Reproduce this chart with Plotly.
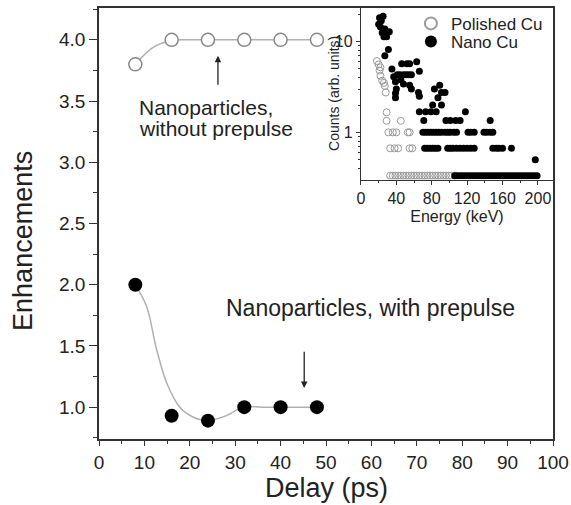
import plotly.graph_objects as go

# ---- main panel data ----
delay = [8, 16, 24, 32, 40, 48]
enh_no_prepulse = [3.8, 4.0, 4.0, 4.0, 4.0, 4.0]
enh_prepulse = [2.0, 0.93, 0.89, 1.0, 1.0, 1.0]

# guide curves
fit_top_x = [8, 12, 16, 20, 28, 36, 48]
fit_top_y = [3.8, 3.94, 3.995, 4.0, 4.0, 4.0, 4.0]
fit_bot_x = [8, 10.5, 12.7, 14.9, 17.8, 20.7, 24, 28, 31.7, 36, 40, 48]
fit_bot_y = [2.0, 1.82, 1.47, 1.2, 1.0, 0.92, 0.89, 0.93, 1.0, 1.0, 1.0, 1.0]

# ---- inset data ----
nano_x = [21, 25, 23, 20, 22, 27, 24, 30, 32, 26, 29, 31, 27,
          35, 46, 52, 55, 63, 66, 37, 41, 44, 48, 51, 54, 57, 39, 45, 48, 55, 57, 40, 39, 39, 65, 66,
          66, 73, 79, 85, 71, 81, 83, 89, 87, 91, 95, 91, 96, 101, 107, 112, 118, 146,
          70, 73, 76, 79, 82, 85, 88, 91, 95, 98, 101, 105, 108, 121, 124, 128, 139, 142, 146, 149,
          72, 75, 78, 81, 84, 87, 98, 101, 104, 108, 112, 116, 120, 124, 128, 149, 153, 156, 160, 170,
          197,
          106, 109, 112, 115, 118, 121, 124, 127, 130, 133, 136, 139, 142, 145, 148, 151, 154, 157,
          160, 163, 166, 169, 172, 175, 178, 181, 184, 187, 190, 193, 196, 199]
nano_y = [18.3, 19.0, 17.0, 15.5, 14.5, 13.8, 12.5, 12.6, 12.8, 11.3, 11.3, 8.2, 7.0,
          5.0, 5.7, 5.7, 5.7, 6.0, 4.7, 4.1, 4.3, 4.3, 4.3, 4.3, 4.3, 4.3, 3.6, 3.8, 3.4, 3.3, 3.0, 3.0, 2.7, 2.4, 2.75, 2.5,
          1.69, 1.69, 1.69, 1.69, 1.35, 2.0, 3.0, 3.3, 2.4, 2.75, 2.75, 2.0, 1.35, 1.35, 1.35, 1.35, 1.69, 1.35,
          1, 1, 1, 1, 1, 1, 1, 1, 1, 1, 1, 1, 1, 1, 1, 1, 1, 1, 1, 1,
          0.667, 0.667, 0.667, 0.667, 0.667, 0.667, 0.667, 0.667, 0.667, 0.667, 0.667, 0.667, 0.667,
          0.667, 0.667, 0.667, 0.667, 0.667, 0.667, 0.667,
          0.5,
          0.333, 0.333, 0.333, 0.333, 0.333, 0.333, 0.333, 0.333, 0.333, 0.333, 0.333, 0.333, 0.333,
          0.333, 0.333, 0.333, 0.333, 0.333, 0.333, 0.333, 0.333, 0.333, 0.333, 0.333, 0.333, 0.333,
          0.333, 0.333, 0.333, 0.333, 0.333, 0.333]
pol_x = [18, 20, 22, 21, 22, 24, 26, 27, 28, 29, 29, 45,
         31, 36, 40, 53, 55,
         33, 38, 42, 55, 58,
         33, 36, 39, 42, 45, 48, 51, 54, 57, 60, 63, 66, 69, 72, 75, 78, 81, 84, 87, 90, 93, 96, 99, 102, 106]
pol_y = [6.1, 5.6, 5.2, 4.8, 4.2, 3.7, 3.5, 3.25, 2.75, 1.66, 1.34, 1.34,
         1, 1, 1, 1, 1,
         0.667, 0.667, 0.667, 0.667, 0.667,
         0.333, 0.333, 0.333, 0.333, 0.333, 0.333, 0.333, 0.333, 0.333, 0.333, 0.333, 0.333, 0.333,
         0.333, 0.333, 0.333, 0.333, 0.333, 0.333, 0.333, 0.333, 0.333, 0.333, 0.333, 0.333]

x_ticks = [0, 10, 20, 30, 40, 50, 60, 70, 80, 90, 100]
y_ticks = [1.0, 1.5, 2.0, 2.5, 3.0, 3.5, 4.0]
inset_x_ticks = [0, 40, 80, 120, 160, 200]
inset_y_ticks = [1, 10]
inset_y_minor = [0.4, 0.5, 0.6, 0.7, 0.8, 0.9, 2, 3, 4, 5, 6, 7, 8, 9, 20]

FONT = "Liberation Sans, Arial, Helvetica, sans-serif"
AX = "#333333"
TXT = "#222222"

fig = go.Figure()

fig.add_trace(go.Scatter(x=fit_top_x, y=fit_top_y, mode="lines", line=dict(color="#b0b0b0", width=1.5, shape="spline"),
                         showlegend=False, hoverinfo="skip"))
fig.add_trace(go.Scatter(x=fit_bot_x, y=fit_bot_y, mode="lines", line=dict(color="#b0b0b0", width=1.5, shape="spline"),
                         showlegend=False, hoverinfo="skip"))
fig.add_trace(go.Scatter(x=delay, y=enh_no_prepulse, mode="markers",
                         marker=dict(symbol="circle", size=13, color="white", line=dict(color="#888888", width=1.5)),
                         showlegend=False))
fig.add_trace(go.Scatter(x=delay, y=enh_prepulse, mode="markers",
                         marker=dict(symbol="circle", size=14, color="black"),
                         showlegend=False))

# inset
fig.add_trace(go.Scatter(x=pol_x, y=pol_y, mode="markers", name="Polished Cu", xaxis="x2", yaxis="y2",
                         legend="legend",
                         marker=dict(symbol="circle-open", size=7, color="#999999", line=dict(width=1))))
fig.add_trace(go.Scatter(x=nano_x, y=nano_y, mode="markers", name="Nano Cu", xaxis="x2", yaxis="y2",
                         legend="legend2",
                         marker=dict(symbol="circle", size=7, color="black")))

fig.update_layout(
    width=571, height=505,
    margin=dict(l=99, r=18, t=7, b=66),
    paper_bgcolor="white", plot_bgcolor="white",
    font=dict(family=FONT, color=TXT),
    xaxis=dict(domain=[0, 1], range=[0, 100], tickvals=x_ticks, ticks="outside", ticklen=5, tickwidth=1.2,
               tickcolor=AX, showline=True, linecolor=AX, linewidth=1.5, mirror=True, showgrid=False,
               zeroline=False, tickfont=dict(size=19), automargin=False,
               minor=dict(tickvals=[5, 15, 25, 35, 45, 55, 65, 75, 85, 95], ticks="outside", ticklen=3, tickcolor=AX)),
    yaxis=dict(domain=[0, 1], range=[0.74, 4.26], tickvals=y_ticks, tickformat=".1f", ticks="outside", ticklen=8,
               tickwidth=1.2, tickcolor=AX, showline=True, linecolor=AX, linewidth=1.5, mirror=True,
               showgrid=False, zeroline=False, tickfont=dict(size=19), automargin=False,
               minor=dict(tickvals=[0.75, 1.25, 1.75, 2.25, 2.75, 3.25, 3.75, 4.25], ticks="outside", ticklen=4, tickcolor=AX)),
    xaxis2=dict(domain=[0.577, 1], anchor="y2", range=[0, 217], tickvals=inset_x_ticks, ticks="outside",
                ticklen=4, tickcolor=AX, showline=True, linecolor=AX, linewidth=1.2, showgrid=False,
                zeroline=False, tickfont=dict(size=16), automargin=False,
                minor=dict(tickvals=[20, 60, 100, 140, 180], ticks="outside", ticklen=2, tickcolor=AX),
                title=dict(text="Energy (keV)", font=dict(size=16), standoff=4)),
    yaxis2=dict(domain=[0.602, 1], anchor="x2", type="log", range=[-0.52, 1.37], tickvals=inset_y_ticks,
                ticktext=["1", "10"], ticks="outside", ticklen=4, tickcolor=AX, showline=True, linecolor=AX,
                linewidth=1.2, showgrid=False, zeroline=False, tickfont=dict(size=16), automargin=False,
                minor=dict(tickvals=inset_y_minor, ticks="outside", ticklen=2, tickcolor=AX)),
    legend=dict(x=0.687, y=0.961, xanchor="left", yanchor="middle", bgcolor="rgba(0,0,0,0)",
                font=dict(size=17, color=TXT), itemsizing="constant"),
    legend2=dict(x=0.687, y=0.919, xanchor="left", yanchor="middle", bgcolor="rgba(0,0,0,0)",
                 font=dict(size=17, color=TXT), itemsizing="constant"),
    showlegend=True,
)

# axis titles
fig.add_annotation(x=0.5, y=-0.113, xref="paper", yref="paper", text="Delay (ps)", showarrow=False,
                   xanchor="center", yanchor="middle", font=dict(size=27, color=TXT))
fig.add_annotation(x=-0.167, y=0.46, xref="paper", yref="paper", text="Enhancements", showarrow=False,
                   textangle=-90, xanchor="center", yanchor="middle", font=dict(size=27, color=TXT))
fig.add_annotation(x=0.518, y=0.801, xref="paper", yref="paper", text="Counts (arb. units)", showarrow=False,
                   textangle=-90, xanchor="center", yanchor="middle", font=dict(size=14, color=TXT))

fig.add_annotation(x=8.4, y=3.446, xref="x", yref="y", text="Nanoparticles,", showarrow=False,
                   xanchor="left", yanchor="middle", font=dict(size=21, color=TXT))
fig.add_annotation(x=8.4, y=3.275, xref="x", yref="y", text="without prepulse", showarrow=False,
                   xanchor="left", yanchor="middle", font=dict(size=21, color=TXT))
fig.add_annotation(x=27.6, y=1.81, xref="x", yref="y", text="Nanoparticles, with prepulse", showarrow=False,
                   xanchor="left", yanchor="middle", font=dict(size=23, color=TXT))

fig.add_annotation(x=26.2, y=3.87, ax=26.2, ay=3.62, xref="x", yref="y", axref="x", ayref="y", text="",
                   showarrow=True, arrowhead=2, arrowsize=1, arrowwidth=1.3, arrowcolor=TXT)
fig.add_annotation(x=45.2, y=1.156, ax=45.2, ay=1.465, xref="x", yref="y", axref="x", ayref="y", text="",
                   showarrow=True, arrowhead=2, arrowsize=1, arrowwidth=1.3, arrowcolor=TXT)

fig.write_html("out.html", config={"displayModeBar": False},
               post_script="document.body.style.margin='0';")
